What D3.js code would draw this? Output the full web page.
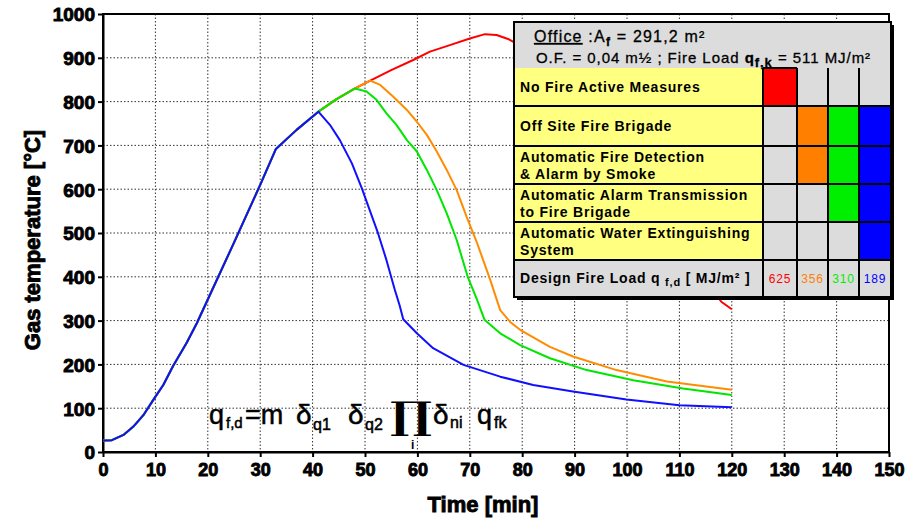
<!DOCTYPE html>
<html>
<head>
<meta charset="utf-8">
<script src="https://cdn.jsdelivr.net/npm/d3@7"></script>
<style>
  body { margin: 0; background: #fff; }
  svg { font-family: "Liberation Sans", Arial, sans-serif; }
  .tick text { font-weight: bold; font-size: 18px; fill: #000; stroke: #000; stroke-width: 0.9px; }
  .axisTitle { font-weight: bold; font-size: 22px; stroke: #000; stroke-width: 0.9px; }
  .rowLabel { font-weight: bold; font-size: 14px; letter-spacing: 0.8px; }
</style>
</head>
<body>
<div id="chart"></div>
<script>
// Ticks
var timeTicks = [0, 10, 20, 30, 40, 50, 60, 70, 80, 90, 100, 110, 120, 130, 140, 150];
var tempTicks = [0, 100, 200, 300, 400, 500, 600, 700, 800, 900, 1000];

// Curves: [time min, temperature °C]
var sharedRise = [[0, 26], [1.7, 27], [3.9, 39], [5.8, 58], [7.7, 84], [9.6, 119], [11.5, 153],
  [13.4, 197], [16, 250], [17.9, 294], [19.8, 343], [25, 478], [30, 610], [33, 692], [37, 736], [41.1, 777]];
var blueTail = [[43.3, 747], [45.2, 712], [47.5, 659], [49.4, 602], [51, 549], [52.5, 499], [54.1, 438],
  [55.7, 370], [56.6, 335], [57.3, 303], [59.9, 271], [63, 237], [68.8, 199], [75.8, 172], [82.1, 153],
  [89.7, 138], [99.9, 120], [110, 107], [120, 102]];
var greenRise = [[44.5, 805], [48.1, 830]];
var greenTail = [[50.3, 823], [52.2, 804], [54.1, 773], [56, 747], [58, 712], [59.9, 686], [61.8, 644],
  [63.7, 598], [65.6, 545], [67.5, 484], [69.6, 400], [71.3, 350], [72.8, 302], [75.8, 271], [79.6, 244],
  [85.3, 214], [92.3, 187], [101.2, 164], [110.7, 145], [120, 130]];
var orangeRise = [[51, 848]];
var orangeTail = [[52.9, 838], [55.4, 811], [58, 781], [59.9, 754], [61.8, 724], [63.7, 686], [65.6, 644],
  [67.5, 598], [69.4, 537], [71.3, 480], [73.9, 393], [75.8, 324], [77.7, 297], [79.6, 279], [85.3, 240],
  [89.7, 218], [98, 187], [107.6, 161], [120, 142]];
var redTail = [[55, 872], [59.2, 895], [62.4, 914], [66.2, 929], [70, 944], [72.9, 954], [75.1, 952],
  [77.3, 943], [80, 925], [85, 870], [90, 790], [95, 700], [100, 610], [105, 530], [110, 460],
  [115, 390], [118, 343], [120, 326]];

// Table
var rowLabels = [
  ["No Fire Active Measures"],
  ["Off Site Fire Brigade"],
  ["Automatic Fire Detection", "& Alarm by Smoke"],
  ["Automatic Alarm Transmission", "to Fire Brigade"],
  ["Automatic Water Extinguishing", "System"]
];
// which measure columns are active in each row
var activeCells = [
  [1, 0, 0, 0],
  [0, 1, 1, 1],
  [0, 1, 1, 1],
  [0, 0, 1, 1],
  [0, 0, 0, 1]
];
var designLoads = [625, 356, 310, 189];
var seriesColors = ["#ff0000", "#ff8000", "#00ee00", "#0000ff"];

var series = [
  { color: "#ff0000", points: sharedRise.concat(greenRise, orangeRise, redTail) },
  { color: "#ff8c00", points: sharedRise.concat(greenRise, orangeRise, orangeTail) },
  { color: "#00e600", points: sharedRise.concat(greenRise, greenTail) },
  { color: "#1010ff", points: sharedRise.concat(blueTail) }
];

var svgWidth = 917, svgHeight = 520;
var margin = { top: 14, left: 103 };
var width = 786, height = 438;

var svg = d3.select("#chart").append("svg")
  .attr("width", svgWidth)
  .attr("height", svgHeight);

var chartGroup = svg.append("g")
  .attr("transform", `translate(${margin.left}, ${margin.top})`);

var xScale = d3.scaleLinear().domain([0, 150]).range([0, width]);
var yScale = d3.scaleLinear().domain([0, 1000]).range([height, 0]);

// grid
chartGroup.selectAll("line.vgrid")
  .data(timeTicks.slice(1, -1))
  .enter().append("line")
  .attr("x1", d => xScale(d)).attr("x2", d => xScale(d))
  .attr("y1", 0).attr("y2", height)
  .attr("stroke", "#333").attr("stroke-width", 1).attr("stroke-dasharray", "1.5,2");

chartGroup.selectAll("line.hgrid")
  .data(tempTicks.slice(1, -1))
  .enter().append("line")
  .attr("x1", 0).attr("x2", width)
  .attr("y1", d => yScale(d)).attr("y2", d => yScale(d))
  .attr("stroke", "#333").attr("stroke-width", 1).attr("stroke-dasharray", "1.5,2");

// frame
chartGroup.append("rect")
  .attr("width", width).attr("height", height)
  .attr("fill", "none").attr("stroke", "#000").attr("stroke-width", 2);

// axes
var xAxis = chartGroup.append("g")
  .attr("transform", `translate(0, ${height})`)
  .call(d3.axisBottom(xScale).tickValues(timeTicks).tickSize(5).tickSizeOuter(0).tickPadding(6));
var yAxis = chartGroup.append("g")
  .call(d3.axisLeft(yScale).tickValues(tempTicks).tickFormat(d3.format("d")).tickSize(5).tickSizeOuter(0).tickPadding(3));
[xAxis, yAxis].forEach(function (a) {
  a.select(".domain").attr("stroke-width", 2);
  a.selectAll(".tick line").attr("stroke-width", 2);
  a.attr("font-family", null).attr("font-size", null);
});
yAxis.selectAll(".tick text").attr("dy", "0.36em").style("font-size", "19px");

// curves
var line = d3.line()
  .x(d => xScale(d[0]))
  .y(d => yScale(d[1]));

chartGroup.selectAll("path.curve")
  .data(series)
  .enter().append("path")
  .attr("class", "curve")
  .attr("d", d => line(d.points))
  .attr("fill", "none")
  .attr("stroke", d => d.color)
  .attr("stroke-width", 2)
  .attr("stroke-linejoin", "round");

// axis titles
svg.append("text")
  .attr("class", "axisTitle")
  .attr("transform", "rotate(-90)")
  .attr("x", -240).attr("y", 40)
  .attr("text-anchor", "middle")
  .text("Gas temperature [°C]");

svg.append("text")
  .attr("class", "axisTitle")
  .attr("x", 483).attr("y", 512)
  .attr("text-anchor", "middle")
  .text("Time [min]");

// formula
var formula = svg.append("g").attr("fill", "#000");
var fParts = [
  { x: 209, y: 424, s: 27, t: "q" },
  { x: 226, y: 428, s: 15, t: "f,d" },
  { x: 245, y: 424, s: 27, t: "=m" },
  { x: 296, y: 424, s: 28, t: "δ" },
  { x: 313, y: 430, s: 16, t: "q1" },
  { x: 348, y: 424, s: 28, t: "δ" },
  { x: 365, y: 430, s: 16, t: "q2" },
  { x: 433, y: 424, s: 28, t: "δ" },
  { x: 450, y: 428, s: 16, t: "ni" },
  { x: 477, y: 424, s: 27, t: "q" },
  { x: 494, y: 428, s: 16, t: "fk" }
];
formula.selectAll("text.f")
  .data(fParts)
  .enter().append("text")
  .attr("x", d => d.x).attr("y", d => d.y)
  .attr("font-size", d => d.s)
  .attr("stroke", "#000").attr("stroke-width", 0.5)
  .text(d => d.t);
formula.append("text")
  .attr("transform", "translate(390, 429) scale(1.25, 0.95)")
  .attr("font-family", "'DejaVu Serif', 'Liberation Serif', serif")
  .attr("font-weight", "bold")
  .attr("font-size", 40)
  .text("∏");
formula.append("text")
  .attr("x", 411).attr("y", 449)
  .attr("font-size", 12).attr("font-weight", "bold")
  .text("i");

// legend table
var tX = 514, tY = 22, tW = 377;
var labelW = 249;
var colX = [763, 797, 828, 859, 891];
var rowY = [68, 106, 146, 184, 222, 260, 297];
var table = svg.append("g");

table.append("rect")
  .attr("x", tX + 3).attr("y", tY + 3).attr("width", tW).attr("height", rowY[6] - tY)
  .attr("fill", "#000");
table.append("rect")
  .attr("x", tX).attr("y", tY).attr("width", tW).attr("height", rowY[6] - tY)
  .attr("fill", "#dcdcdc");

rowLabels.forEach(function (lines, i) {
  table.append("rect")
    .attr("x", tX).attr("y", rowY[i]).attr("width", labelW).attr("height", rowY[i + 1] - rowY[i])
    .attr("fill", "#ffff80");
  activeCells[i].forEach(function (on, j) {
    if (on) {
      table.append("rect")
        .attr("x", colX[j]).attr("y", rowY[i]).attr("width", colX[j + 1] - colX[j]).attr("height", rowY[i + 1] - rowY[i])
        .attr("fill", seriesColors[j]);
    }
  });
  var mid = (rowY[i] + rowY[i + 1]) / 2;
  lines.forEach(function (l, k) {
    table.append("text")
      .attr("class", "rowLabel")
      .attr("x", 520)
      .attr("y", lines.length === 1 ? mid + 5 : mid - 3 + k * 17)
      .text(l);
  });
});

// table lines
var lines = table.append("g").attr("stroke", "#000").attr("stroke-width", 2);
rowY.slice(1, 6).forEach(function (y) {
  lines.append("line").attr("x1", tX).attr("x2", tX + tW).attr("y1", y).attr("y2", y);
});
lines.append("line").attr("x1", colX[0]).attr("x2", colX[1]).attr("y1", rowY[0]).attr("y2", rowY[0]);
colX.slice(0, 4).forEach(function (x) {
  lines.append("line").attr("x1", x).attr("x2", x).attr("y1", rowY[0]).attr("y2", rowY[6]);
});
table.append("rect")
  .attr("x", tX).attr("y", tY).attr("width", tW).attr("height", rowY[6] - tY)
  .attr("fill", "none").attr("stroke", "#000").attr("stroke-width", 2);

// header text
var h1 = table.append("text").attr("x", 534).attr("y", 42).attr("font-size", 16)
  .attr("letter-spacing", "1.2px").attr("stroke", "#000").attr("stroke-width", 0.3);
h1.append("tspan").attr("text-decoration", "underline").text("Office");
h1.append("tspan").text(" :A");
h1.append("tspan").attr("dy", 4).attr("font-size", 12).attr("font-weight", "bold").text("f");
h1.append("tspan").attr("dy", -4).text(" = 291,2 m²");

var h2 = table.append("text").attr("x", 536).attr("y", 63).attr("font-size", 15)
  .attr("letter-spacing", "0.95px").attr("stroke", "#000").attr("stroke-width", 0.3);
h2.append("tspan").text("O.F. = 0,04 m½ ;  Fire Load  ");
h2.append("tspan").attr("font-weight", "bold").text("q");
h2.append("tspan").attr("dy", 4).attr("font-size", 13).attr("font-weight", "bold").text("f,k");
h2.append("tspan").attr("dy", -4).text(" = 511 MJ/m²");

// design fire load row
var dl = table.append("text").attr("class", "rowLabel").attr("x", 520).attr("y", 283);
dl.append("tspan").text("Design Fire Load q ");
dl.append("tspan").attr("dy", 3).attr("font-size", 11).text("f,d");
dl.append("tspan").attr("dy", -3).text(" [ MJ/m² ]");

table.selectAll("text.load")
  .data(designLoads)
  .enter().append("text")
  .attr("x", (d, i) => (colX[i] + colX[i + 1]) / 2)
  .attr("y", 283)
  .attr("text-anchor", "middle")
  .attr("font-size", 12)
  .attr("letter-spacing", "0.8px")
  .attr("fill", (d, i) => seriesColors[i])
  .text(d => d);
</script>
</body>
</html>
